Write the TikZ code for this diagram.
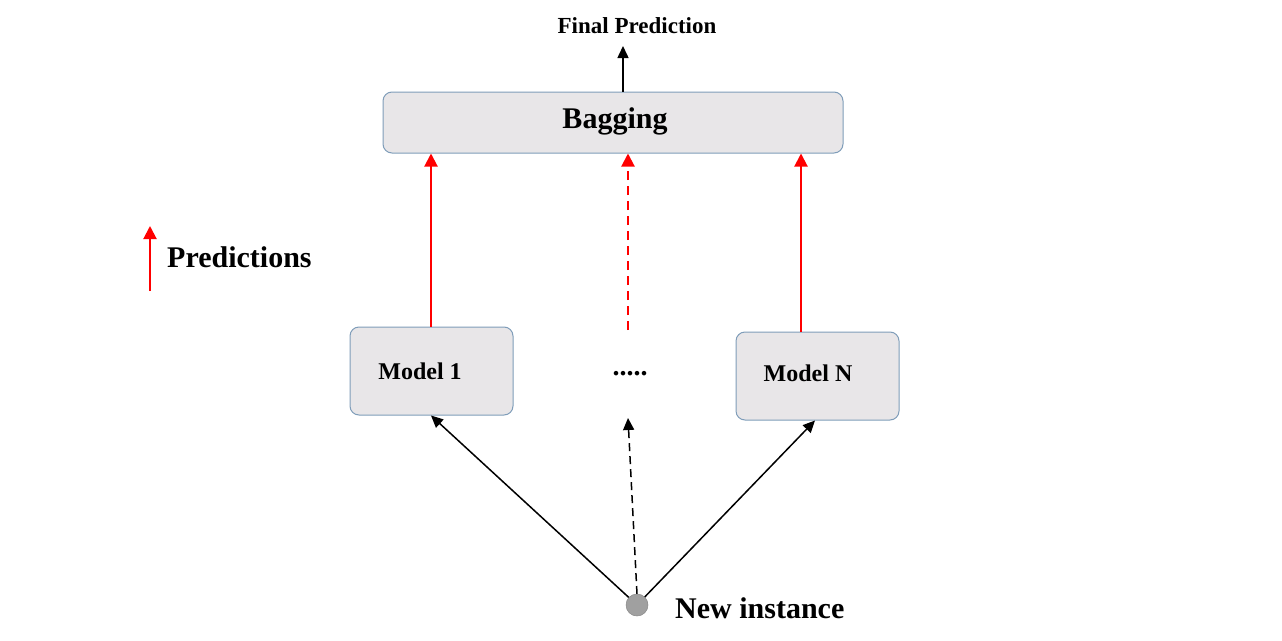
\documentclass[tikz,border=0pt]{standalone}
\usepackage{fontspec}
\setmainfont{Liberation Serif}
\usetikzlibrary{arrows.meta}
\definecolor{boxfill}{HTML}{E8E6E8}
\definecolor{boxline}{HTML}{7F9DB9}
\definecolor{dotgray}{HTML}{A0A0A0}
\tikzset{
  box/.style={draw=boxline, fill=boxfill, rounded corners=9pt, line width=1pt, inner sep=0pt},
  redarr/.style={draw=red, line width=2pt, -{Triangle[length=13pt,width=13pt]}},
  blackarr/.style={draw=black, line width=1.5pt, -{Triangle[length=12pt,width=11pt]}},
  lbl/.style={font=\bfseries, inner sep=0pt}
}
\begin{document}
\begin{tikzpicture}[x=1pt,y=-1pt]
\useasboundingbox (0,0) rectangle (1282,640);
% boxes
\node[box, minimum width=460pt, minimum height=61pt] (bag) at (613,122.5) {};
\node[lbl, font=\fontsize{30}{32}\selectfont\bfseries] (bagtxt) at (615,121) {Bagging};
\node[box, minimum width=163pt, minimum height=88pt] (m1) at (431.5,371) {};
\node[lbl, font=\fontsize{24}{26}\selectfont\bfseries] (m1txt) at (420,371) {Model 1};
\node[box, minimum width=163pt, minimum height=88pt] (mn) at (817.5,376) {};
\node[lbl, font=\fontsize{24}{26}\selectfont\bfseries] (mntxt) at (808,373) {Model N};
\node[lbl, font=\fontsize{28}{30}\selectfont\bfseries] (dots) at (630,374) {.....};
% final prediction
\node[lbl, font=\fontsize{23}{25}\selectfont\bfseries] (final) at (637,26) {Final Prediction};
\coordinate (fpend) at (623,46);
\draw[blackarr] (bag.north -| 623,0) -- (fpend);
% red arrows
\draw[redarr] (m1.north -| 431,0) -- (bag.south -| 431,0);
\draw[redarr, dashed, dash pattern=on 9pt off 6pt] (628,330) -- (bag.south -| 628,0);
\draw[redarr] (mn.north -| 801,0) -- (bag.south -| 801,0);
% legend
\coordinate (lgbot) at (150,291);
\coordinate (lgtop) at (150,226);
\draw[redarr] (lgbot) -- (lgtop);
\node[lbl, font=\fontsize{30}{32}\selectfont\bfseries, anchor=west] (pred) at (167,257) {Predictions};
% new instance
\coordinate (dotc) at (637,605);
\coordinate (mid) at (628,418);
\draw[blackarr] (dotc) -- (m1.south -| 431,0);
\draw[blackarr] (dotc) -- (mn.south -| 815,0);
\draw[blackarr, dashed, dash pattern=on 8pt off 5pt] (637,594) -- (mid);
\node[circle, fill=dotgray, draw=dotgray!85!black, line width=0.5pt, minimum size=22pt, inner sep=0pt] (dot) at (dotc) {};
\node[lbl, font=\fontsize{30}{32}\selectfont\bfseries, anchor=west] (newi) at (675,608) {New instance};
\end{tikzpicture}
\end{document}
